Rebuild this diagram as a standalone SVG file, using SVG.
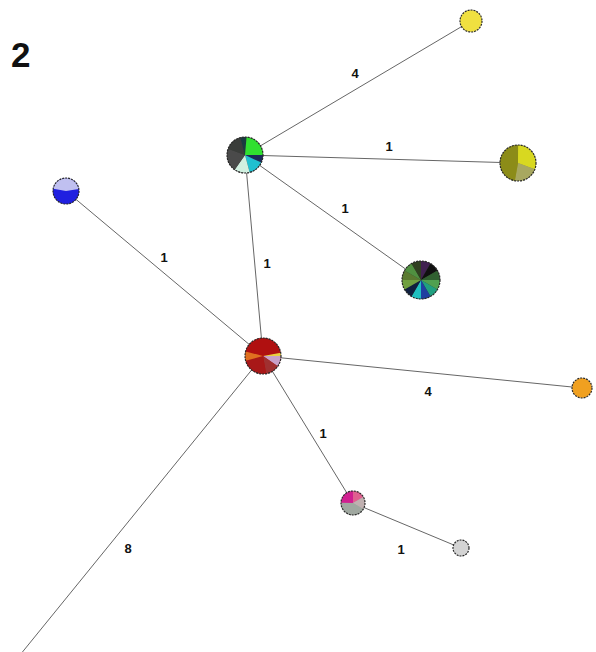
<svg xmlns="http://www.w3.org/2000/svg" width="596" height="652" viewBox="0 0 596 652">
<style>
.edge{stroke:#666;stroke-width:1;fill:none}
.lbl{font-family:"Liberation Sans",Arial,sans-serif;font-weight:bold;font-size:13px;fill:#111;text-anchor:middle}
.title{font-family:"Liberation Sans",Arial,sans-serif;font-weight:bold;font-size:35px;fill:#111}
.s{fill:none}
.ol{fill:none;stroke:#2a2a2a;stroke-width:1.2;stroke-dasharray:2 1}
</style>
<rect width="596" height="652" fill="#ffffff"/>
<text class="title" x="11" y="67">2</text>
<g id="connectors">
<line class="edge" x1="245" y1="155" x2="471" y2="21"/>
<line class="edge" x1="245" y1="155" x2="518" y2="163"/>
<line class="edge" x1="245" y1="155" x2="421" y2="280"/>
<line class="edge" x1="245" y1="155" x2="263" y2="356"/>
<line class="edge" x1="66" y1="191" x2="263" y2="356"/>
<line class="edge" x1="263" y1="356" x2="582" y2="388"/>
<line class="edge" x1="263" y1="356" x2="353" y2="503"/>
<line class="edge" x1="353" y1="503" x2="461" y2="548"/>
<line class="edge" x1="263" y1="356" x2="20" y2="655"/>
</g>
<g id="edge-labels">
<text class="lbl" x="355" y="78">4</text>
<text class="lbl" x="389" y="151">1</text>
<text class="lbl" x="345" y="213">1</text>
<text class="lbl" x="164" y="262">1</text>
<text class="lbl" x="267" y="268">1</text>
<text class="lbl" x="428" y="396">4</text>
<text class="lbl" x="323" y="438">1</text>
<text class="lbl" x="401" y="554">1</text>
<text class="lbl" x="128" y="553">8</text>
</g>
<g id="node-A" transform="translate(245,155)">
<circle r="18" fill="#3a3d3a"/>
<g stroke-width="18">
<circle class="s" r="9" pathLength="360" stroke="#1b2a5a" stroke-dasharray="25 360" transform="rotate(0)"/>
<circle class="s" r="9" pathLength="360" stroke="#20c0d0" stroke-dasharray="50 360" transform="rotate(25)"/>
<circle class="s" r="9" pathLength="360" stroke="#d0f0e0" stroke-dasharray="50 360" transform="rotate(75)"/>
<circle class="s" r="9" pathLength="360" stroke="#4a4a4a" stroke-dasharray="75 360" transform="rotate(125)"/>
<circle class="s" r="9" pathLength="360" stroke="#3a3d3a" stroke-dasharray="55 360" transform="rotate(200)"/>
<circle class="s" r="9" pathLength="360" stroke="#1a3a40" stroke-dasharray="20 360" transform="rotate(255)"/>
<circle class="s" r="9" pathLength="360" stroke="#30e030" stroke-dasharray="85 360" transform="rotate(275)"/>
</g>
<circle class="ol" r="18"/>
</g>
<g id="node-B" transform="translate(518,163)">
<circle r="18" fill="#9c9c30"/>
<g stroke-width="18">
<circle class="s" r="9" pathLength="360" stroke="#d8d820" stroke-dasharray="110 360" transform="rotate(-90)"/>
<circle class="s" r="9" pathLength="360" stroke="#a8a860" stroke-dasharray="80 360" transform="rotate(20)"/>
<circle class="s" r="9" pathLength="360" stroke="#8c8c18" stroke-dasharray="170 360" transform="rotate(100)"/>
</g>
<circle class="ol" r="18"/>
</g>
<g id="node-C" transform="translate(421,280)">
<circle r="19" fill="#304030"/>
<g stroke-width="19">
<circle class="s" r="9.5" pathLength="360" stroke="#402050" stroke-dasharray="30 360" transform="rotate(-90)"/>
<circle class="s" r="9.5" pathLength="360" stroke="#101010" stroke-dasharray="30 360" transform="rotate(-60)"/>
<circle class="s" r="9.5" pathLength="360" stroke="#306030" stroke-dasharray="30 360" transform="rotate(-30)"/>
<circle class="s" r="9.5" pathLength="360" stroke="#50a050" stroke-dasharray="30 360" transform="rotate(0)"/>
<circle class="s" r="9.5" pathLength="360" stroke="#20a080" stroke-dasharray="30 360" transform="rotate(30)"/>
<circle class="s" r="9.5" pathLength="360" stroke="#2040a0" stroke-dasharray="30 360" transform="rotate(60)"/>
<circle class="s" r="9.5" pathLength="360" stroke="#20c0c0" stroke-dasharray="30 360" transform="rotate(90)"/>
<circle class="s" r="9.5" pathLength="360" stroke="#102040" stroke-dasharray="30 360" transform="rotate(120)"/>
<circle class="s" r="9.5" pathLength="360" stroke="#70a040" stroke-dasharray="30 360" transform="rotate(150)"/>
<circle class="s" r="9.5" pathLength="360" stroke="#5a7a30" stroke-dasharray="30 360" transform="rotate(180)"/>
<circle class="s" r="9.5" pathLength="360" stroke="#509040" stroke-dasharray="30 360" transform="rotate(210)"/>
<circle class="s" r="9.5" pathLength="360" stroke="#304020" stroke-dasharray="30 360" transform="rotate(240)"/>
</g>
<circle class="ol" r="19"/>
</g>
<g id="node-D" transform="translate(263,356)">
<circle r="18" fill="#b01010"/>
<g stroke-width="18">
<circle class="s" r="9" pathLength="360" stroke="#b01010" stroke-dasharray="155 360" transform="rotate(195)"/>
<circle class="s" r="9" pathLength="360" stroke="#e8d040" stroke-dasharray="10 360" transform="rotate(-10)"/>
<circle class="s" r="9" pathLength="360" stroke="#c8a0c8" stroke-dasharray="35 360" transform="rotate(0)"/>
<circle class="s" r="9" pathLength="360" stroke="#a03030" stroke-dasharray="45 360" transform="rotate(35)"/>
<circle class="s" r="9" pathLength="360" stroke="#a81818" stroke-dasharray="85 360" transform="rotate(80)"/>
<circle class="s" r="9" pathLength="360" stroke="#e07020" stroke-dasharray="30 360" transform="rotate(165)"/>
</g>
<circle class="ol" r="18"/>
</g>
<g id="node-E" transform="translate(353,503)">
<circle r="12" fill="#a0a8a0"/>
<g stroke-width="12">
<circle class="s" r="6" pathLength="360" stroke="#d02090" stroke-dasharray="90 360" transform="rotate(180)"/>
<circle class="s" r="6" pathLength="360" stroke="#e06090" stroke-dasharray="60 360" transform="rotate(270)"/>
<circle class="s" r="6" pathLength="360" stroke="#c0b0b0" stroke-dasharray="60 360" transform="rotate(330)"/>
<circle class="s" r="6" pathLength="360" stroke="#a0a8a0" stroke-dasharray="150 360" transform="rotate(30)"/>
</g>
<circle class="ol" r="12"/>
</g>
<g id="node-F" transform="translate(66,191)">
<circle r="13" fill="#2020e0"/>
<g stroke-width="13">
<circle class="s" r="6.5" pathLength="360" stroke="#2020e0" stroke-dasharray="200 360" transform="rotate(-10)"/>
<circle class="s" r="6.5" pathLength="360" stroke="#c0c0f0" stroke-dasharray="160 360" transform="rotate(190)"/>
</g>
<circle class="ol" r="13"/>
</g>
<g id="node-G"><circle cx="471" cy="21" r="11" fill="#f0e040"/><circle class="ol" cx="471" cy="21" r="11"/></g>
<g id="node-H"><circle cx="582" cy="388" r="10" fill="#f0a020"/><circle class="ol" cx="582" cy="388" r="10"/></g>
<g id="node-I"><circle cx="461" cy="548" r="8" fill="#d4d4d4"/><circle class="ol" cx="461" cy="548" r="8"/></g>
</svg>
